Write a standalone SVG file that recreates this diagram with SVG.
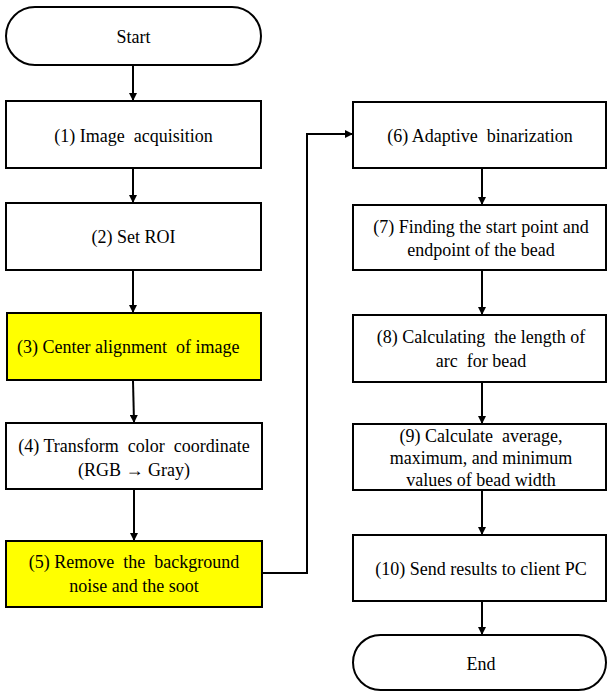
<svg xmlns="http://www.w3.org/2000/svg" width="608" height="692" viewBox="0 0 608 692">
<defs>
<marker id="ah" markerWidth="8" markerHeight="8" refX="7" refY="4" orient="auto" markerUnits="userSpaceOnUse">
<path d="M0,0 L8,4 L0,8 Z" fill="#000"/>
</marker>
</defs>
<rect width="608" height="692" fill="#fff"/>
<g id="connectors" fill="none" stroke="#000" stroke-width="2">
<line x1="133" y1="65" x2="133" y2="100" marker-end="url(#ah)"/>
<line x1="133" y1="168" x2="133" y2="202" marker-end="url(#ah)"/>
<line x1="133" y1="270" x2="133" y2="312" marker-end="url(#ah)"/>
<line x1="133" y1="381" x2="134" y2="422" marker-end="url(#ah)"/>
<line x1="134" y1="490" x2="134" y2="540" marker-end="url(#ah)"/>
<polyline points="263,573 307,573 307,134 352,134" marker-end="url(#ah)"/>
<line x1="482" y1="169" x2="482" y2="204" marker-end="url(#ah)"/>
<line x1="482" y1="271" x2="482" y2="314" marker-end="url(#ah)"/>
<line x1="482" y1="383" x2="482" y2="423" marker-end="url(#ah)"/>
<line x1="482" y1="491" x2="482" y2="534" marker-end="url(#ah)"/>
<line x1="482" y1="602" x2="482" y2="634" marker-end="url(#ah)"/>
</g>
<g id="start">
<rect x="6" y="7" width="255" height="58" rx="29" ry="29" fill="#fff" stroke="#000" stroke-width="2"/>
<text x="133.5" y="43" font-family="Liberation Serif" font-size="18" text-anchor="middle">Start</text>
</g>
<g id="n1">
<rect x="6" y="101" width="255" height="67" fill="#fff" stroke="#000" stroke-width="2"/>
<text x="133.5" y="142" font-family="Liberation Serif" font-size="18" text-anchor="middle" xml:space="preserve">(1) Image  acquisition</text>
</g>
<g id="n2">
<rect x="6" y="203" width="255" height="67" fill="#fff" stroke="#000" stroke-width="2"/>
<text x="133.5" y="243" font-family="Liberation Serif" font-size="18" text-anchor="middle">(2) Set ROI</text>
</g>
<g id="n3">
<rect x="7" y="313" width="254" height="67" fill="#ffff00" stroke="#000" stroke-width="2"/>
<text x="17" y="353" font-family="Liberation Serif" font-size="18" text-anchor="start" xml:space="preserve">(3) Center alignment  of image</text>
</g>
<g id="n4">
<rect x="6" y="423" width="256" height="66" fill="#fff" stroke="#000" stroke-width="2"/>
<text x="134" y="452" font-family="Liberation Serif" font-size="18" text-anchor="middle" xml:space="preserve">(4) Transform  color  coordinate</text>
<text x="134" y="476" font-family="Liberation Serif" font-size="18" text-anchor="middle">(RGB &#8594; Gray)</text>
</g>
<g id="n5">
<rect x="6" y="541" width="256" height="66" fill="#ffff00" stroke="#000" stroke-width="2"/>
<text x="134" y="568" font-family="Liberation Serif" font-size="18" text-anchor="middle" xml:space="preserve">(5) Remove  the  background</text>
<text x="134" y="592" font-family="Liberation Serif" font-size="18" text-anchor="middle">noise and the soot</text>
</g>
<g id="n6">
<rect x="353" y="102" width="253" height="66" fill="#fff" stroke="#000" stroke-width="2"/>
<text x="480" y="142" font-family="Liberation Serif" font-size="18" text-anchor="middle" xml:space="preserve">(6) Adaptive  binarization</text>
</g>
<g id="n7">
<rect x="353" y="205" width="253" height="65" fill="#fff" stroke="#000" stroke-width="2"/>
<text x="481" y="233" font-family="Liberation Serif" font-size="18" text-anchor="middle">(7) Finding the start point and</text>
<text x="481" y="256" font-family="Liberation Serif" font-size="18" text-anchor="middle">endpoint of the bead</text>
</g>
<g id="n8">
<rect x="353" y="315" width="253" height="67" fill="#fff" stroke="#000" stroke-width="2"/>
<text x="481" y="343" font-family="Liberation Serif" font-size="18" text-anchor="middle" xml:space="preserve">(8) Calculating  the length of</text>
<text x="481" y="367" font-family="Liberation Serif" font-size="18" text-anchor="middle" xml:space="preserve">arc  for bead</text>
</g>
<g id="n9">
<rect x="353" y="424" width="253" height="66" fill="#fff" stroke="#000" stroke-width="2"/>
<text x="481" y="442" font-family="Liberation Serif" font-size="18" text-anchor="middle" xml:space="preserve">(9) Calculate  average,</text>
<text x="481" y="464" font-family="Liberation Serif" font-size="18" text-anchor="middle">maximum, and minimum</text>
<text x="481" y="486" font-family="Liberation Serif" font-size="18" text-anchor="middle">values of bead width</text>
</g>
<g id="n10">
<rect x="353" y="535" width="253" height="66" fill="#fff" stroke="#000" stroke-width="2"/>
<text x="481" y="575" font-family="Liberation Serif" font-size="18" text-anchor="middle">(10) Send results to client PC</text>
</g>
<g id="end">
<rect x="353" y="635" width="253" height="55" rx="27.5" ry="27.5" fill="#fff" stroke="#000" stroke-width="2"/>
<text x="481" y="670" font-family="Liberation Serif" font-size="18" text-anchor="middle">End</text>
</g>
</svg>
